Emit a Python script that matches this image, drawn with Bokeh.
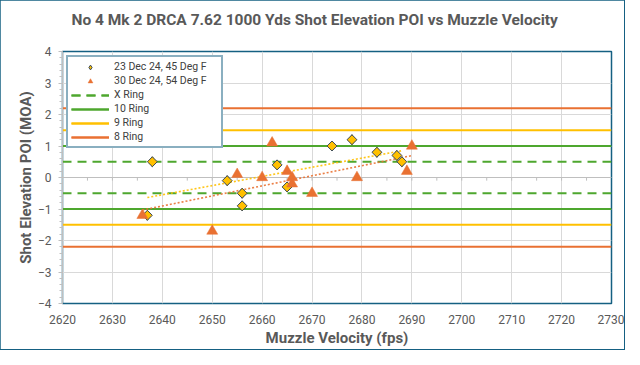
import numpy as np
from bokeh.plotting import figure
from bokeh.models import Range1d, Legend, LegendItem, SingleIntervalTicker, Title
from bokeh.embed import file_html
from bokeh.resources import INLINE

# ---------------- data ----------------
title_text = "No 4 Mk 2 DRCA 7.62 1000 Yds Shot Elevation POI vs Muzzle Velocity"
x_label = "Muzzle Velocity (fps)"
y_label = "Shot Elevation POI (MOA)"

dec23_label = "23 Dec 24, 45 Deg F"
dec23_fps = [2637, 2638, 2653, 2656, 2656, 2663, 2665, 2674, 2678, 2683, 2687, 2688]
dec23_moa = [-1.2, 0.5, -0.1, -0.5, -0.9, 0.4, -0.3, 1.0, 1.2, 0.8, 0.7, 0.5]

dec30_label = "30 Dec 24, 54 Deg F"
dec30_fps = [2636, 2650, 2655, 2660, 2662, 2665, 2666, 2666, 2670, 2679, 2689, 2690]
dec30_moa = [-1.2, -1.7, 0.1, 0.0, 1.1, 0.2, 0.0, -0.2, -0.5, 0.0, 0.2, 1.0]

ring_names = ["X Ring", "10 Ring", "9 Ring", "8 Ring"]
ring_moa = [0.5, 1.0, 1.5, 2.2]

x_lo, x_hi = 2620, 2730
y_lo, y_hi = -4, 4

# ---------------- styles ----------------
FONT = "Roboto"
GRAY = "#595959"
BLUE = "#156082"
YELLOW = "#FFC000"
ORANGE = "#E97132"
GREEN = "#4EA72E"
ring_colors = [GREEN, GREEN, YELLOW, ORANGE]
ring_dash = ["9 6", "solid", "solid", "solid"]

p = figure(width=624, height=349,
           x_range=Range1d(x_lo, x_hi), y_range=Range1d(y_lo, y_hi),
           output_backend="svg", toolbar_location=None,
           min_border_left=62, min_border_right=13,
           min_border_top=51, min_border_bottom=46)

p.styles = {"outline": f"2px solid {BLUE}", "outline-offset": "-1px"}

p.title.text = title_text
p.title.align = "left"
p.title.offset = 9
p.title.text_font = FONT
p.title.text_font_size = "15.5px"
p.title.text_font_style = "bold"
p.title.text_color = GRAY

# empty spacer between the title and the plot area
p.add_layout(Title(text=" ", text_font_size="5px"), "above")

p.outline_line_color = BLUE
p.outline_line_width = 1.5
p.background_fill_color = "white"
p.border_fill_color = "white"

# axes
p.xaxis.ticker = SingleIntervalTicker(interval=10, num_minor_ticks=0)
p.xaxis.axis_line_color = None
p.xaxis.major_tick_line_color = None
p.xaxis.minor_tick_line_color = None
p.xaxis.major_label_standoff = 5
p.xaxis.axis_label = x_label
p.xaxis.axis_label_standoff = 2

p.yaxis.ticker = SingleIntervalTicker(interval=1, num_minor_ticks=5)
p.yaxis.axis_line_color = "#BFBFBF"
p.yaxis.major_tick_line_color = "#BFBFBF"
p.yaxis.minor_tick_line_color = "#BFBFBF"
p.yaxis.major_tick_in = 0
p.yaxis.major_tick_out = 4
p.yaxis.minor_tick_in = 0
p.yaxis.minor_tick_out = 3
p.yaxis.major_label_standoff = 7
p.yaxis.axis_label = y_label
p.yaxis.axis_label_standoff = 0

for ax in (p.xaxis, p.yaxis):
    ax.major_label_text_font = FONT
    ax.major_label_text_font_size = "12px"
    ax.major_label_text_color = GRAY
    ax.axis_label_text_font = FONT
    ax.axis_label_text_font_size = "15px"
    ax.axis_label_text_font_style = "bold"
    ax.axis_label_text_color = GRAY

p.xgrid.grid_line_color = "#D9D9D9"
p.ygrid.grid_line_color = "#D9D9D9"

# horizontal axis line at zero with minor ticks
p.line([x_lo, x_hi], [0, 0], line_color="#BFBFBF", line_width=1)
tick_x = np.arange(x_lo + 5, x_hi, 5)
p.segment(x0=tick_x, y0=np.zeros(len(tick_x)), x1=tick_x, y1=np.full(len(tick_x), -0.1),
          line_color="#BFBFBF", line_width=1)

# ring lines
ring_items = []
for name, val, col, dash in zip(ring_names, ring_moa, ring_colors, ring_dash):
    r1 = p.line([x_lo, x_hi], [val, val], line_color=col, line_width=2, line_dash=dash)
    r2 = p.line([x_lo, x_hi], [-val, -val], line_color=col, line_width=2, line_dash=dash)
    ring_items.append(LegendItem(label=name, renderers=[r1, r2]))

# trend lines (least squares on each series)
for xs, ys, col in ((dec23_fps, dec23_moa, YELLOW), (dec30_fps, dec30_moa, ORANGE)):
    k, b = np.polyfit(xs, ys, 1)
    tx = np.array([min(xs), max(xs)], dtype=float)
    p.line(tx, k * tx + b, line_color=col, line_width=1.6, line_dash="2 2", line_alpha=0.9)

# diamond key for the legend (sits hidden beneath the rotated squares)
r23_key = p.scatter(dec23_fps, dec23_moa, marker="diamond", size=10,
                    fill_color=YELLOW, line_color="#3A4A5A", line_width=1)

# scatter series
r23 = p.scatter(dec23_fps, dec23_moa, marker="square", angle=np.pi / 4, size=7,
                fill_color=YELLOW, line_color="#3A4A5A", line_width=1)
r30 = p.scatter(dec30_fps, dec30_moa, marker="triangle", size=11,
                fill_color=ORANGE, line_color=ORANGE, line_width=0.5)

legend = Legend(items=[LegendItem(label=dec23_label, renderers=[r23_key]),
                       LegendItem(label=dec30_label, renderers=[r30])] + ring_items,
                location="top_left", margin=4, padding=3, spacing=1,
                glyph_width=38, glyph_height=12, label_height=12,
                label_standoff=5, label_width=104,
                label_text_font=FONT, label_text_font_size="10.5px",
                label_text_color="#404040",
                border_line_color=BLUE, border_line_width=2,
                background_fill_color="white", background_fill_alpha=1)
p.add_layout(legend, "center")

open("out.html", "w").write(file_html(p, INLINE))
